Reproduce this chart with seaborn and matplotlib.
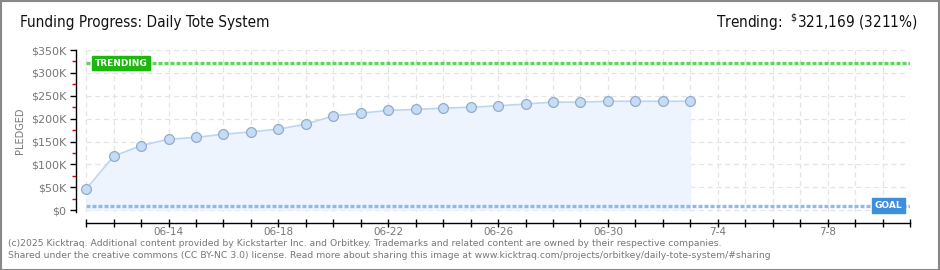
import matplotlib
matplotlib.use("Agg")
import matplotlib.pyplot as plt
import seaborn as sns
import pandas as pd
import numpy as np
from matplotlib.patches import Rectangle
from matplotlib.ticker import FixedLocator

# ---- data ----
dates = ["06-11", "06-12", "06-13", "06-14", "06-15", "06-16", "06-17", "06-18",
         "06-19", "06-20", "06-21", "06-22", "06-23", "06-24", "06-25", "06-26",
         "06-27", "06-28", "06-29", "06-30", "07-01", "07-02", "07-03"]
pledged = [46000, 118000, 141000, 155000, 159000, 166000, 171000, 177000,
           188000, 206000, 212000, 218000, 220000, 223000, 225000, 228000,
           232000, 236000, 236000, 238000, 238000, 238000, 238000]
all_days = pd.date_range("2025-06-11", "2025-07-11", freq="D")
xlabel_days = ["06-14", "06-18", "06-22", "06-26", "06-30", "7-4", "7-8"]
ytick_vals = [0, 50000, 100000, 150000, 200000, 250000, 300000, 350000]
ytick_labels = ["$0", "$50K", "$100K", "$150K", "$200K", "$250K", "$300K", "$350K"]
goal = 10000
trending = 321169
trend_pct = 3211
title = "Funding Progress: Daily Tote System"

sns.set_theme(style="white")
plt.rcParams['font.family'] = ['DejaVu Sans']

fig = plt.figure(figsize=(9.4, 2.7), dpi=100)
ax = fig.add_axes([76/940, 1-212/270, (910-76)/940, (212-50)/270])

df = pd.DataFrame({"day": np.arange(len(pledged)), "pledged": pledged})
ax.fill_between(df["day"], df["pledged"], 0, color="#edf4fd", zorder=1, lw=0)
sns.lineplot(data=df, x="day", y="pledged", ax=ax, color="#bcd6f2", lw=1.2, zorder=3)
sns.scatterplot(data=df, x="day", y="pledged", ax=ax, s=50, color="#c4dcf6",
                edgecolor="#93abc9", linewidth=0.9, zorder=4)

ndays = len(all_days)
ax.set_xlim(-0.37, ndays - 1)
ax.set_ylim(-4000, 350000)

# grid
for d in range(ndays):
    ax.axvline(d, color="#e4e4e4", lw=0.9, ls=(0, (4, 3)), zorder=0)
for v in ytick_vals:
    ax.hlines(v, 0, ndays - 1.2, color="#e4e4e4", lw=0.9, ls=(0, (4, 3)), zorder=0)

# goal & trending lines
ax.hlines(goal, 0, ndays - 1, color="#8fbbea", lw=2.4, ls=(0, (1.2, 0.6)), zorder=2)
ax.hlines(trending, 0, ndays - 1, color="#5fd35a", lw=2.4, ls=(0, (1.2, 0.6)), zorder=2)

# labels on the lines
ax.text(0.3, trending, "TRENDING", color="white", fontsize=6.5, fontweight="bold",
        va="center", ha="left", zorder=6,
        bbox=dict(boxstyle="square,pad=0.3", fc="#1db80e", ec="#1db80e"))
ax.text(ndays - 1.8, goal, "GOAL", color="white", fontsize=6.5, fontweight="bold",
        va="center", ha="center", zorder=6,
        bbox=dict(boxstyle="square,pad=0.3", fc="#3d8fdc", ec="#3d8fdc"))

# axes styling
for s in ["top", "right"]:
    ax.spines[s].set_visible(False)
for s in ["left", "bottom"]:
    ax.spines[s].set_visible(True)
    ax.spines[s].set_color("black")
    ax.spines[s].set_linewidth(1.0)
    ax.spines[s].set_zorder(5)
ax.spines["bottom"].set_position(("outward", 8))
ax.spines["bottom"].set_bounds(0, ndays - 1)

ax.set_yticks(ytick_vals)
ax.set_yticklabels(ytick_labels, color="#777777", fontsize=8)
ax.yaxis.set_minor_locator(FixedLocator([25000 + 50000 * i for i in range(7)]))
ax.tick_params(axis="y", which="major", direction="out", length=4, width=1, colors="black",
               labelcolor="#777777", pad=3, left=True)
ax.tick_params(axis="y", which="minor", direction="out", length=3, width=1, color="#dd0000", left=True)

xt = list(range(ndays))
ax.set_xticks(xt)
lab = [""] * ndays
for i, name in zip([3, 7, 11, 15, 19, 23, 27], xlabel_days):
    lab[i] = name
ax.set_xticklabels(lab, fontsize=7.5)
ax.tick_params(axis="x", which="major", direction="inout", length=6, width=1, colors="black",
               labelcolor="#777777", pad=0, bottom=True)
ax.set_xlabel("")
ax.set_ylabel("PLEDGED", color="#777777", fontsize=7)
ax.yaxis.set_label_coords(-(76 - 25) / (910 - 76), 0.5)

# title texts
fig.text(20/940, 1-22/270, title, fontsize=11, color="#111111", va="center", ha="left",
         family="DejaVu Sans", stretch="condensed")
fig.text(918/940, 1-22/270, f"Trending:  $\\mathregular{{^{{\\$}}}}${trending:,} ({trend_pct}%)",
         fontsize=11, color="#111111", va="center", ha="right",
         family="DejaVu Sans", stretch="condensed")

# footer
fig.text(8/940, 1-243/270, "(c)2025 Kicktraq. Additional content provided by Kickstarter Inc. and Orbitkey. Trademarks and related content are owned by their respective companies.",
         fontsize=6.7, color="#777777", va="center", ha="left")
fig.text(8/940, 1-256/270, "Shared under the creative commons (CC BY-NC 3.0) license. Read more about sharing this image at www.kicktraq.com/projects/orbitkey/daily-tote-system/#sharing",
         fontsize=6.7, color="#777777", va="center", ha="left")

# frame
fig.patches.append(Rectangle((0.5/940, 0.5/270), 1-1.5/940, 1-1.5/270, transform=fig.transFigure,
                             fill=False, ec="#888888", lw=1.5))

fig.savefig("out.png", dpi=100)
